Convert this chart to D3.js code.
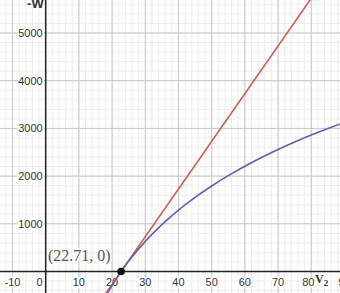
<!DOCTYPE html>
<html>
<head>
<meta charset="utf-8">
<script src="https://cdn.jsdelivr.net/npm/d3@7"></script>
<style>
  html, body { margin: 0; padding: 0; background: #fff; }
  svg { display: block; }
  .tick-label { font-family: "Liberation Sans", Arial, sans-serif; font-size: 11px; fill: #333;
                stroke: #fff; stroke-width: 3px; paint-order: stroke; }
</style>
</head>
<body>
<div id="chart"></div>
<script>
var w = 340, h = 293;

// tick values
var xTicks = [-10, 0, 10, 20, 30, 40, 50, 60, 70, 80, 90];
var yTicks = [1000, 2000, 3000, 4000, 5000];

// isothermal curve (purple)
var purpleV = [18, 20, 22.71, 25, 30, 35, 40, 45, 50, 55, 60, 65, 70, 75, 80, 85, 90];
var purpleW = [-528, -289, 0, 218, 632, 982, 1286, 1553, 1792, 2009, 2206, 2388, 2556, 2713, 2860, 2997, 3127];

// constant pressure line (red)
var redV = [18, 85];
var redW = [-471, 6229];

// marked point
var pointV = 22.71, pointW = 0;
var pointLabel = "(22.71, 0)";

var xScale = d3.scaleLinear().domain([-13.76, 88.65]).range([0, w]);
var yScale = d3.scaleLinear().domain([-451, 5692]).range([h, 0]);

var svg = d3.select("#chart").append("svg").attr("width", w).attr("height", h);

svg.append("defs").append("clipPath").attr("id", "clip")
    .append("rect").attr("width", w).attr("height", h);

var grid = svg.append("g");
// minor grid
grid.selectAll(".vminor").data(d3.range(-14, 90, 2))
    .enter().append("line")
    .attr("x1", function(d){ return xScale(d); }).attr("x2", function(d){ return xScale(d); })
    .attr("y1", 0).attr("y2", h)
    .attr("stroke", "#ececec").attr("stroke-width", 1);
grid.selectAll(".hminor").data(d3.range(-400, 5800, 200))
    .enter().append("line")
    .attr("y1", function(d){ return yScale(d); }).attr("y2", function(d){ return yScale(d); })
    .attr("x1", 0).attr("x2", w)
    .attr("stroke", "#ececec").attr("stroke-width", 1);
// major grid
grid.selectAll(".vmajor").data(xTicks)
    .enter().append("line")
    .attr("x1", function(d){ return xScale(d); }).attr("x2", function(d){ return xScale(d); })
    .attr("y1", 0).attr("y2", h)
    .attr("stroke", "#c8c8c8").attr("stroke-width", 1);
grid.selectAll(".hmajor").data(yTicks)
    .enter().append("line")
    .attr("y1", function(d){ return yScale(d); }).attr("y2", function(d){ return yScale(d); })
    .attr("x1", 0).attr("x2", w)
    .attr("stroke", "#c8c8c8").attr("stroke-width", 1);

// axes
svg.append("line").attr("x1", xScale(0)).attr("x2", xScale(0)).attr("y1", 0).attr("y2", h)
    .attr("stroke", "#222").attr("stroke-width", 1.5);
svg.append("line").attr("y1", yScale(0)).attr("y2", yScale(0)).attr("x1", 0).attr("x2", w)
    .attr("stroke", "#222").attr("stroke-width", 1.5);

// tick labels
svg.selectAll(".xl").data(xTicks)
    .enter().append("text")
    .attr("class", "tick-label")
    .attr("x", function(d){
        if (d === 0) return xScale(0) - 3;
        if (d === 80) return xScale(d) - 3; // pushed left by the axis title
        return xScale(d);
    })
    .attr("y", yScale(0) + 15)
    .style("text-anchor", function(d){ return d === 0 ? "end" : "middle"; })
    .text(function(d){ return d; });
svg.selectAll(".yl").data(yTicks)
    .enter().append("text")
    .attr("class", "tick-label")
    .attr("x", xScale(0) - 3)
    .attr("y", function(d){ return yScale(d) + 4; })
    .style("text-anchor", "end")
    .text(function(d){ return d; });

// curves
var plot = svg.append("g").attr("clip-path", "url(#clip)");
var line = d3.line()
    .x(function(d){ return xScale(d[0]); })
    .y(function(d){ return yScale(d[1]); })
    .curve(d3.curveMonotoneX);

plot.append("path")
    .datum(redV.map(function(v, i){ return [v, redW[i]]; }))
    .attr("d", line)
    .attr("fill", "none").attr("stroke", "#cd5e52").attr("stroke-width", 1.6);

plot.append("path")
    .datum(purpleV.map(function(v, i){ return [v, purpleW[i]]; }))
    .attr("d", line)
    .attr("fill", "none").attr("stroke", "#6c58b8").attr("stroke-width", 1.6);

// point and label
svg.append("circle")
    .attr("cx", xScale(pointV)).attr("cy", yScale(pointW)).attr("r", 3.8)
    .attr("fill", "#111");
svg.append("text")
    .attr("x", 48).attr("y", yScale(pointW) - 10)
    .style("font-family", "'Liberation Serif', 'Times New Roman', serif")
    .style("font-size", "16px")
    .attr("fill", "#555")
    .attr("stroke", "#fff").attr("stroke-width", 3).style("paint-order", "stroke")
    .text(pointLabel);

// axis titles
svg.append("text")
    .attr("x", xScale(0) - 2).attr("y", 8)
    .style("text-anchor", "end")
    .style("font-family", "'Liberation Sans', Arial, sans-serif")
    .style("font-size", "13px").style("font-weight", "bold")
    .attr("fill", "#333")
    .text("-W");

var vt = svg.append("text")
    .attr("x", 315).attr("y", yScale(0) + 12)
    .style("font-family", "'Liberation Serif', 'Times New Roman', serif")
    .style("font-size", "12px").style("font-weight", "bold")
    .attr("fill", "#333")
    .attr("stroke", "#fff").attr("stroke-width", 3).style("paint-order", "stroke");
vt.append("tspan").text("V");
vt.append("tspan").attr("dy", 3).style("font-size", "9px").text("2");
</script>
</body>
</html>
